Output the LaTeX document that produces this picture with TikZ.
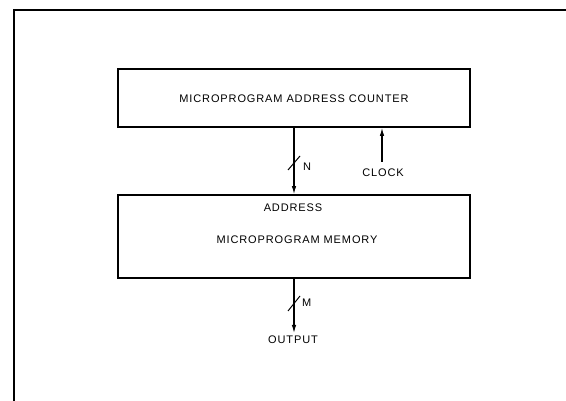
\documentclass[tikz,border=0pt]{standalone}
\usepackage{fontspec}
\setmainfont{Liberation Sans}[LetterSpace=8]
\usetikzlibrary{arrows.meta}
\tikzset{
  blockbox/.style={draw, line width=1.8pt, minimum width=352pt, inner sep=0pt},
  lbl/.style={font=\fontsize{11}{13}\selectfont, inner sep=0pt},
  bus/.style={line width=1.1pt, -{Latex[length=8pt,width=4.5pt]}},
  slash/.style={line width=1pt},
  frame/.style={line width=1.2pt}
}
\begin{document}
\begin{tikzpicture}[x=1pt,y=-1pt]
  \useasboundingbox (0,0) rectangle (566,401);
  % outer frame (top and left edges)
  \coordinate (fTR) at (566,10);
  \coordinate (fTL) at (14,10);
  \coordinate (fBL) at (14,401);
  \draw[frame] (fTR) -- (fTL) -- (fBL);

  % blocks
  \node[blockbox, minimum height=58pt] (counter) at (294,98) {};
  \node[lbl] (countertxt) at (294,99) {MICROPROGRAM ADDRESS COUNTER};
  \node[blockbox, minimum height=83pt] (memory) at (294,236.5) {};
  \node[lbl] (addr) at (293,208) {ADDRESS};
  \node[lbl] (memtxt) at (297,240) {MICROPROGRAM MEMORY};

  % address bus, N lines
  \draw[bus] (counter.south) -- (memory.north);
  \coordinate (nA) at (288,170);
  \coordinate (nB) at (300,156);
  \draw[slash] (nA) -- (nB);
  \node[lbl, anchor=west] (nlbl) at (303,167) {N};

  % clock input
  \node[lbl] (clock) at (383,173) {CLOCK};
  \coordinate (clkbot) at (382,162);
  \draw[bus] (clkbot) -- (counter.south -| clkbot);

  % output bus, M lines
  \node[lbl] (output) at (293,340) {OUTPUT};
  \coordinate (outend) at (294,333);
  \draw[bus] (memory.south) -- (outend);
  \coordinate (mA) at (288,311);
  \coordinate (mB) at (300,296);
  \draw[slash] (mA) -- (mB);
  \node[lbl, anchor=west] (mlbl) at (302,303) {M};
\end{tikzpicture}
\end{document}
